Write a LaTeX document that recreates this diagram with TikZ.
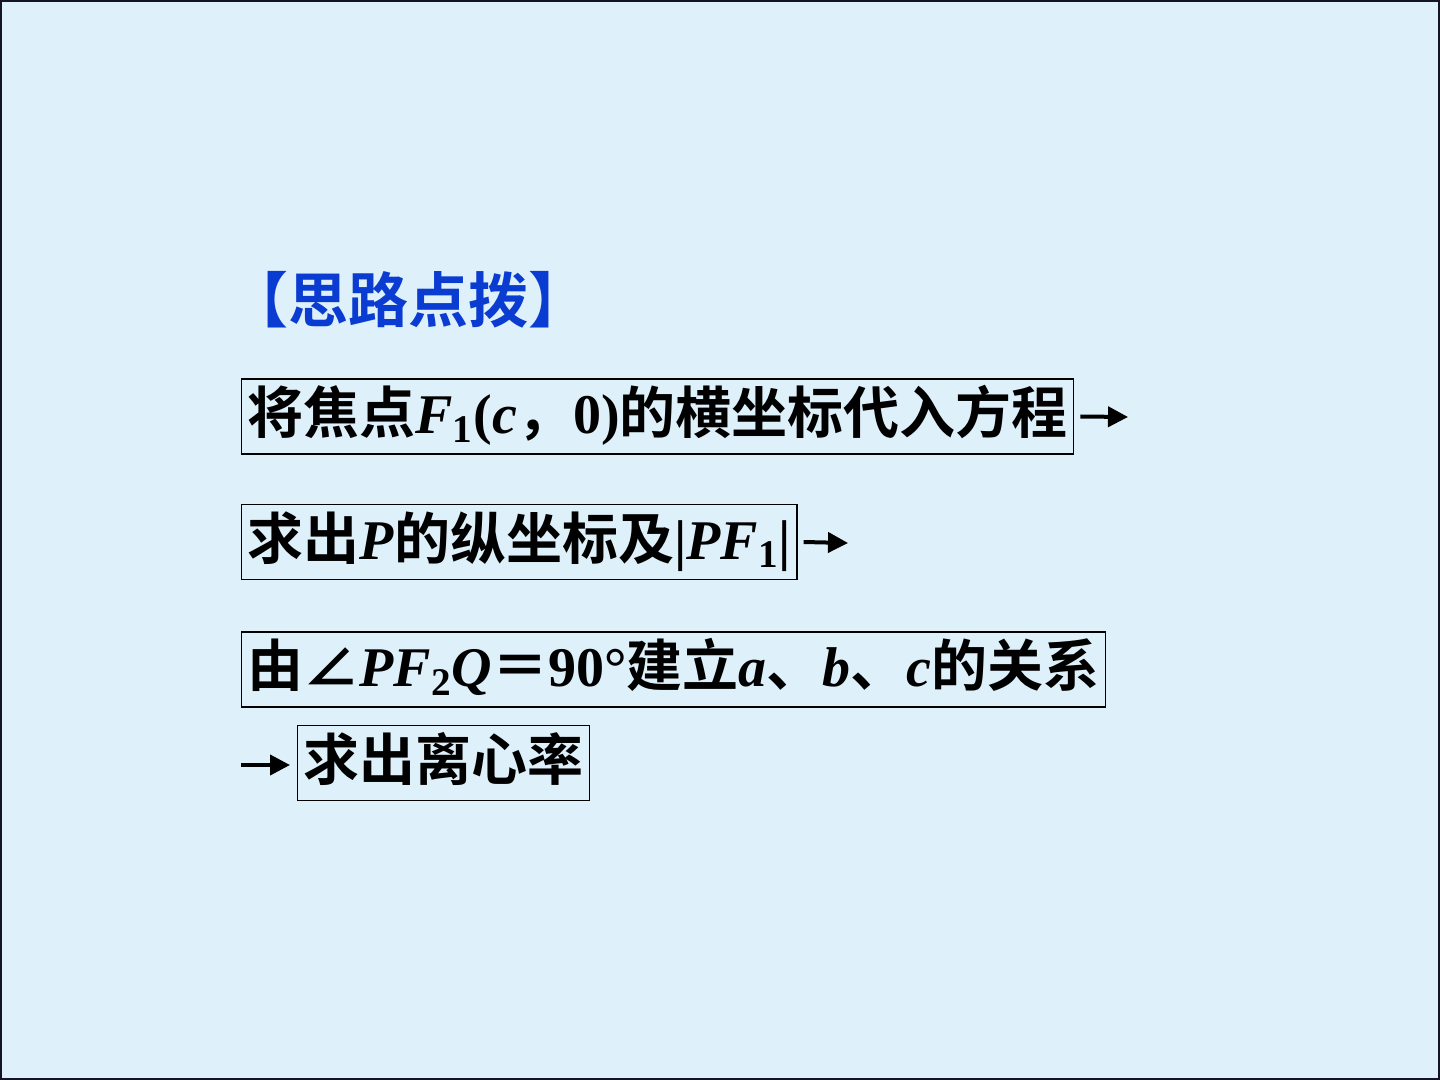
\documentclass[tikz,border=0pt]{standalone}
\usepackage{fontspec}
\setmainfont{Liberation Serif}
\newfontfamily\cjk{Noto Sans CJK SC}[BoldFont={* Bold}]
\usetikzlibrary{arrows.meta}
\definecolor{bgc}{RGB}{222,240,250}
\definecolor{titleblue}{RGB}{10,60,210}
\definecolor{framec}{RGB}{20,20,40}
\tikzset{
  stepbox/.style={draw=black, line width=0.6pt, inner xsep=3pt, inner ysep=0pt,
    minimum height=37.5pt, anchor=west, font=\fontsize{28pt}{30pt}\selectfont\bfseries,
    text height=21pt, text depth=4pt},
  titletext/.style={anchor=west, inner sep=0pt, text=titleblue,
    font=\fontsize{30pt}{32pt}\selectfont\bfseries\cjk},
  arr/.style={line width=2pt, -{Triangle[length=10pt,width=10pt]}}
}
\begin{document}
\begin{tikzpicture}[x=0.5pt,y=-0.5pt]
\useasboundingbox (0,0) rectangle (1440,1080);
\fill[bgc] (0,0) rectangle (1440,1080);
\draw[framec, line width=1pt] (1,1) rectangle (1439,1079);
\node[titletext] (title) at (228,300) {【思路点拨】};
\node[stepbox] (n1) at (241,416.5) {{\cjk 将焦点}\textit{F}\textsubscript{1}(\textit{c}{\cjk ，}0){\cjk 的横坐标代入方程}};
\node[stepbox] (n2) at (241,542) {{\cjk 求出}\textit{P}{\cjk 的纵坐标及}|\textit{PF}\textsubscript{1}|};
\node[stepbox] (n3) at (241,669.5) {{\cjk 由∠}\textit{PF}\textsubscript{2}\textit{Q}{\cjk ＝}90°{\cjk 建立}\textit{a}{\cjk 、}\textit{b}{\cjk 、}\textit{c}{\cjk 的关系}};
\node[stepbox] (n4) at (297,763) {\cjk 求出离心率};
\coordinate (a1e) at (1128,417);
\coordinate (a2e) at (848,543);
\coordinate (a4s) at (241,765);
\draw[arr] ([xshift=3pt]n1.east) -- (a1e);
\draw[arr] ([xshift=3pt]n2.east) -- (a2e);
\draw[arr] (a4s) -- ([xshift=-3.5pt]n4.west |- a4s);
\end{tikzpicture}
\end{document}
